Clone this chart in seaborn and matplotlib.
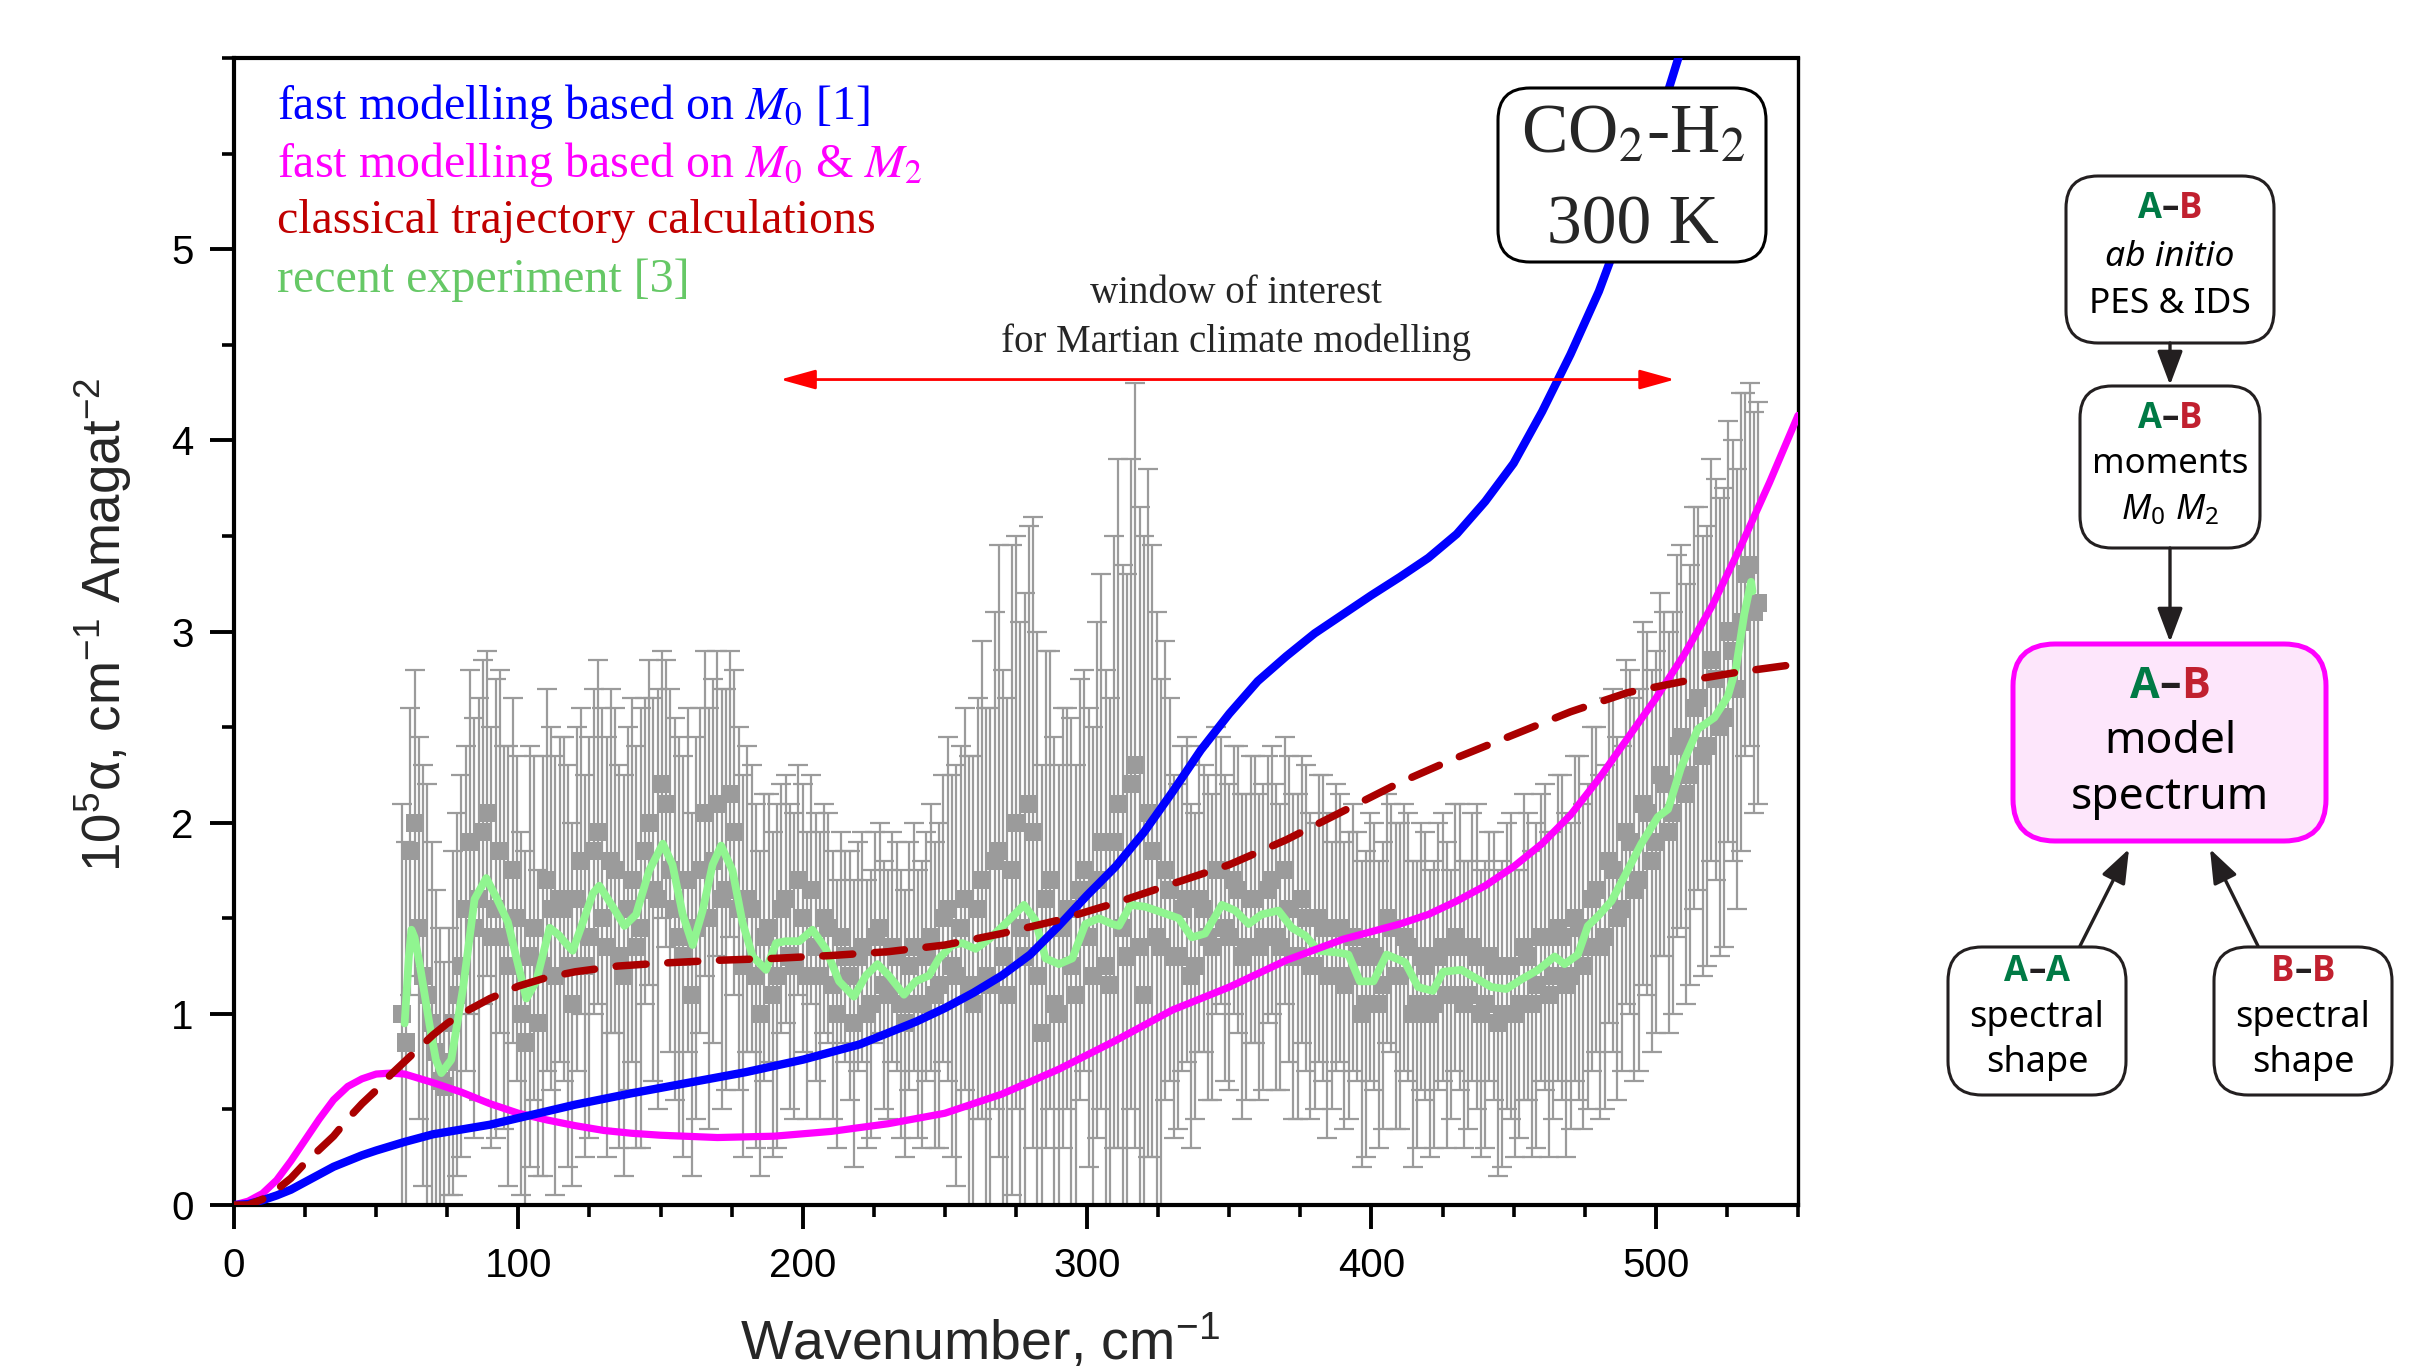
import os
import numpy as np
import matplotlib
matplotlib.use("Agg")
import matplotlib.pyplot as plt
import matplotlib.font_manager as fm
import seaborn as sns
from matplotlib.patches import FancyBboxPatch
from matplotlib.ticker import MultipleLocator

# ---------------- data ----------------
# fast modelling based on M0 [1]
m0_x = [0, 5, 10, 15, 20, 25, 30, 35, 40, 45, 50, 60, 70, 80, 90, 100, 110, 120, 140, 160,
        180, 200, 210, 220, 230, 240, 250, 260, 270, 280, 290, 300, 310, 320, 330, 340,
        350, 360, 370, 380, 390, 400, 410, 420, 430, 440, 450, 460, 470, 480, 490, 500,
        510]
m0_y = [0, 0.005, 0.025, 0.05, 0.08, 0.12, 0.16, 0.20, 0.23, 0.26, 0.285, 0.33, 0.37,
        0.395, 0.42, 0.455, 0.49, 0.525, 0.585, 0.64, 0.695, 0.76, 0.80, 0.84, 0.90, 0.96,
        1.03, 1.11, 1.20, 1.31, 1.46, 1.62, 1.77, 1.95, 2.16, 2.38, 2.57, 2.74, 2.87, 2.99,
        3.09, 3.19, 3.285, 3.385, 3.51, 3.68, 3.88, 4.15, 4.45, 4.78, 5.18, 5.62, 6.10]

# fast modelling based on M0 & M2
m02_x = [0, 5, 10, 15, 20, 25, 30, 35, 40, 45, 50, 55, 60, 70, 80, 90, 100, 110, 120, 130,
         140, 150, 170, 190, 210, 230, 250, 270, 290, 310, 330, 350, 370, 390, 410, 420,
         430, 440, 450, 460, 470, 480, 490, 500, 510, 520, 530, 540, 550]
m02_y = [0, 0.02, 0.06, 0.13, 0.23, 0.34, 0.45, 0.55, 0.62, 0.66, 0.685, 0.69, 0.685,
         0.64, 0.59, 0.53, 0.48, 0.445, 0.415, 0.39, 0.375, 0.365, 0.353, 0.36, 0.385,
         0.425, 0.48, 0.58, 0.71, 0.86, 1.02, 1.14, 1.28, 1.39, 1.47, 1.52, 1.59, 1.67,
         1.77, 1.89, 2.04, 2.23, 2.44, 2.65, 2.88, 3.14, 3.45, 3.78, 4.13]

# classical trajectory calculations
ctc_x = [0, 5, 10, 15, 20, 25, 30, 35, 40, 45, 50, 55, 60, 65, 70, 75, 80, 90, 100, 110,
         120, 135, 150, 170, 190, 210, 230, 250, 270, 290, 310, 330, 350, 370, 390, 410,
         430, 450, 470, 490, 510, 530, 550]
ctc_y = [0, 0.0, 0.03, 0.08, 0.14, 0.22, 0.29, 0.36, 0.45, 0.53, 0.60, 0.68, 0.75, 0.82,
         0.89, 0.95, 1.00, 1.08, 1.145, 1.19, 1.22, 1.25, 1.265, 1.28, 1.29, 1.305, 1.325,
         1.36, 1.42, 1.49, 1.58, 1.68, 1.78, 1.91, 2.06, 2.21, 2.34, 2.46, 2.58, 2.68,
         2.74, 2.79, 2.83]

# recent experiment [3], smoothed curve
smooth_x = [60.0, 61.5, 62.4, 63.5, 65.3, 68.8, 71.0, 72.9, 76.4, 80.5, 84.6, 88.7, 92.2,
            96.3, 99.2, 102.8, 106.3, 111.0, 114.4, 116.0, 119.1, 122.0, 126.2, 128.5,
            133.2, 137.3, 141.4, 146.0, 150.8, 154.2, 157.8, 161.3, 164.8, 168.3, 171.3,
            175.3, 178.8, 182.4, 187.1, 190.6, 194.0, 198.8, 203.4, 208.1, 212.8, 218.0,
            222.2, 226.3, 230.3, 235.6, 239.7, 244.4, 247.9, 252.6, 256.1, 260.8, 265.5,
            272.5, 277.8, 281.8, 285.4, 290.1, 294.8, 299.4, 304.1, 308.8, 311.2, 315.3,
            320.5, 326.4, 332.2, 336.8, 341.5, 347.4, 352.1, 356.8, 361.4, 367.3, 372.0,
            376.7, 381.4, 388.4, 391.9, 395.9, 400.7, 405.3, 411.8, 416.4, 421.6, 425.2,
            431.6, 437.5, 442.2, 447.4, 452.7, 458.6, 464.4, 467.9, 472.6, 476.1, 479.6,
            484.4, 489.0, 494.9, 500.7, 504.3, 508.9, 514.8, 520.6, 525.3, 528.2, 531.1,
            533.5, 534.0]
smooth_y = [0.95, 1.30, 1.44, 1.40, 1.26, 0.94, 0.76, 0.69, 0.76, 1.13, 1.60, 1.71, 1.61,
            1.48, 1.30, 1.08, 1.17, 1.45, 1.41, 1.38, 1.33, 1.45, 1.63, 1.67, 1.56, 1.46,
            1.52, 1.75, 1.89, 1.78, 1.52, 1.36, 1.54, 1.78, 1.88, 1.75, 1.48, 1.30, 1.23,
            1.37, 1.38, 1.38, 1.44, 1.34, 1.17, 1.09, 1.20, 1.26, 1.20, 1.10, 1.17, 1.20,
            1.29, 1.36, 1.37, 1.34, 1.39, 1.49, 1.57, 1.49, 1.29, 1.26, 1.29, 1.47, 1.50,
            1.47, 1.46, 1.57, 1.56, 1.53, 1.50, 1.40, 1.42, 1.57, 1.54, 1.47, 1.52, 1.54,
            1.45, 1.41, 1.33, 1.32, 1.31, 1.17, 1.17, 1.31, 1.27, 1.14, 1.12, 1.22, 1.23,
            1.18, 1.14, 1.13, 1.18, 1.23, 1.30, 1.26, 1.31, 1.46, 1.51, 1.59, 1.72, 1.89,
            2.03, 2.07, 2.29, 2.49, 2.55, 2.66, 2.81, 3.09, 3.26, 3.21]

# recent experiment [3], measured points with uncertainties (two interleaved scans)
exp_x = [59, 62, 65, 68, 71, 74, 77, 80, 83, 86,
         89, 92, 95, 98, 101, 104, 107, 110, 113, 116,
         119, 122, 125, 128, 131, 134, 137, 140, 143, 146,
         149, 152, 155, 158, 161, 164, 167, 170, 173, 176,
         179, 182, 185, 188, 191, 194, 197, 200, 203, 206,
         209, 212, 215, 218, 221, 224, 227, 230, 233, 236,
         239, 242, 245, 248, 251, 254, 257, 260, 263, 266,
         269, 272, 275, 278, 281, 284, 287, 290, 293, 296,
         299, 302, 305, 308, 311, 314, 317, 320, 323, 326,
         329, 332, 335, 338, 341, 344, 347, 350, 353, 356,
         359, 362, 365, 368, 371, 374, 377, 380, 383, 386,
         389, 392, 395, 398, 401, 404, 407, 410, 413, 416,
         419, 422, 425, 428, 431, 434, 437, 440, 443, 446,
         449, 452, 455, 458, 461, 464, 467, 470, 473, 476,
         479, 482, 485, 488, 491, 494, 497, 500, 503, 506,
         509, 512, 515, 518, 521, 524, 527, 530, 533, 536]
exp_y = [1.00, 1.85, 1.45, 1.10, 0.80, 0.62, 0.95, 1.25, 1.90, 1.60,
         2.05, 1.55, 1.40, 1.75, 1.00, 1.30, 0.95, 1.70, 1.20, 1.55,
         1.05, 1.80, 1.40, 1.95, 1.35, 1.75, 1.20, 1.70, 1.45, 2.00,
         1.60, 2.10, 1.55, 1.30, 1.10, 1.75, 1.50, 2.10, 1.65, 1.95,
         1.25, 1.55, 1.00, 1.45, 1.20, 1.60, 1.25, 1.50, 1.65, 1.20,
         1.45, 1.00, 1.30, 0.95, 1.35, 1.05, 1.45, 1.10, 1.30, 0.95,
         1.35, 1.05, 1.40, 1.15, 1.55, 1.20, 1.60, 1.05, 1.70, 1.15,
         1.85, 1.10, 2.00, 1.30, 1.95, 0.90, 1.70, 1.00, 1.55, 1.10,
         1.75, 1.20, 1.90, 1.15, 2.10, 1.30, 2.30, 1.10, 1.85, 1.35,
         1.65, 1.30, 1.60, 1.25, 1.55, 1.35, 1.75, 1.40, 1.65, 1.35,
         1.60, 1.40, 1.70, 1.35, 1.55, 1.30, 1.50, 1.25, 1.45, 1.20,
         1.45, 1.20, 1.30, 1.05, 1.30, 1.15, 1.45, 1.20, 1.35, 1.05,
         1.25, 1.05, 1.35, 1.10, 1.35, 1.10, 1.30, 1.05, 1.25, 1.00,
         1.25, 1.05, 1.30, 1.15, 1.40, 1.20, 1.40, 1.20, 1.45, 1.35,
         1.65, 1.40, 1.75, 1.55, 1.90, 1.70, 2.05, 1.90, 2.20, 2.05,
         2.45, 2.25, 2.65, 2.40, 2.75, 2.55, 2.90, 3.05, 3.35, 3.15]
exp_err = [1.10, 0.75, 1.00, 1.10, 0.85, 0.65, 0.90, 1.00, 0.90, 1.05,
           0.85, 1.20, 1.00, 0.90, 0.95, 1.10, 0.80, 1.00, 1.15, 0.90,
           0.95, 0.80, 1.05, 0.90, 1.10, 0.85, 1.05, 0.95, 1.15, 0.85,
           1.10, 0.75, 1.00, 1.05, 0.95, 0.85, 1.10, 0.80, 1.05, 0.85,
           1.00, 0.75, 0.85, 0.70, 0.90, 0.65, 0.80, 0.70, 0.60, 0.75,
           0.60, 0.70, 0.55, 0.75, 0.60, 0.70, 0.55, 0.65, 0.60, 0.70,
           0.65, 0.75, 0.70, 0.85, 0.90, 1.10, 1.00, 1.30, 1.25, 1.45,
           1.60, 1.55, 1.50, 1.90, 1.65, 1.40, 1.20, 1.30, 1.05, 1.20,
           1.05, 1.30, 1.40, 1.50, 1.80, 2.00, 2.00, 2.40, 1.60, 1.40,
           1.00, 0.90, 0.85, 0.80, 0.75, 0.80, 0.70, 0.80, 0.75, 0.80,
           0.75, 0.80, 0.70, 0.75, 0.80, 0.85, 0.80, 0.75, 0.80, 0.70,
           0.70, 0.75, 0.65, 0.80, 0.70, 0.75, 0.65, 0.80, 0.70, 0.75,
           0.70, 0.75, 0.70, 0.65, 0.75, 0.70, 0.80, 0.75, 0.70, 0.80,
           0.80, 0.70, 0.75, 0.85, 0.80, 0.75, 0.85, 0.80, 0.90, 0.85,
           0.85, 0.90, 0.95, 0.85, 0.90, 1.00, 0.95, 1.00, 0.90, 1.05,
           1.00, 1.10, 1.00, 1.15, 1.05, 1.20, 1.10, 1.20, 0.95, 1.05]

exp2_x = [60.5, 63.5, 66.5, 69.5, 72.5, 75.5, 78.5, 81.5, 84.5, 87.5,
          90.5, 93.5, 96.5, 99.5, 102.5, 105.5, 108.5, 111.5, 114.5, 117.5,
          120.5, 123.5, 126.5, 129.5, 132.5, 135.5, 138.5, 141.5, 144.5, 147.5,
          150.5, 153.5, 156.5, 159.5, 162.5, 165.5, 168.5, 171.5, 174.5, 177.5,
          180.5, 183.5, 186.5, 189.5, 192.5, 195.5, 198.5, 201.5, 204.5, 207.5,
          210.5, 213.5, 216.5, 219.5, 222.5, 225.5, 228.5, 231.5, 234.5, 237.5,
          240.5, 243.5, 246.5, 249.5, 252.5, 255.5, 258.5, 261.5, 264.5, 267.5,
          270.5, 273.5, 276.5, 279.5, 282.5, 285.5, 288.5, 291.5, 294.5, 297.5,
          300.5, 303.5, 306.5, 309.5, 312.5, 315.5, 318.5, 321.5, 324.5, 327.5,
          330.5, 333.5, 336.5, 339.5, 342.5, 345.5, 348.5, 351.5, 354.5, 357.5,
          360.5, 363.5, 366.5, 369.5, 372.5, 375.5, 378.5, 381.5, 384.5, 387.5,
          390.5, 393.5, 396.5, 399.5, 402.5, 405.5, 408.5, 411.5, 414.5, 417.5,
          420.5, 423.5, 426.5, 429.5, 432.5, 435.5, 438.5, 441.5, 444.5, 447.5,
          450.5, 453.5, 456.5, 459.5, 462.5, 465.5, 468.5, 471.5, 474.5, 477.5,
          480.5, 483.5, 486.5, 489.5, 492.5, 495.5, 498.5, 501.5, 504.5, 507.5,
          510.5, 513.5, 516.5, 519.5, 522.5, 525.5, 528.5, 531.5, 534.5]
exp2_y = [0.85, 2.00, 1.20, 0.95, 0.65, 0.75, 1.10, 1.55, 1.45, 1.95,
          1.40, 1.85, 1.25, 1.50, 0.85, 1.45, 1.25, 1.55, 1.60, 1.25,
          1.60, 1.25, 1.85, 1.50, 1.80, 1.30, 1.55, 1.35, 1.85, 1.65,
          2.20, 1.75, 1.40, 1.70, 1.45, 2.05, 1.80, 1.60, 2.15, 1.55,
          1.60, 1.20, 1.40, 1.10, 1.55, 1.30, 1.70, 1.20, 1.35, 1.50,
          1.15, 1.40, 1.20, 1.30, 1.00, 1.40, 1.15, 1.35, 1.05, 1.25,
          1.05, 1.30, 1.10, 1.50, 1.25, 1.45, 1.15, 1.55, 1.20, 1.80,
          1.30, 1.75, 1.45, 2.10, 1.20, 1.60, 1.05, 1.45, 1.25, 1.65,
          1.40, 1.70, 1.25, 1.90, 1.45, 2.20, 1.35, 2.05, 1.40, 1.75,
          1.30, 1.55, 1.20, 1.60, 1.40, 1.75, 1.45, 1.70, 1.30, 1.60,
          1.35, 1.65, 1.40, 1.75, 1.30, 1.60, 1.25, 1.50, 1.20, 1.45,
          1.15, 1.40, 1.00, 1.35, 1.05, 1.50, 1.20, 1.40, 1.00, 1.30,
          1.00, 1.30, 1.10, 1.40, 1.05, 1.35, 1.00, 1.30, 0.95, 1.25,
          1.00, 1.35, 1.05, 1.40, 1.10, 1.45, 1.15, 1.50, 1.25, 1.60,
          1.35, 1.80, 1.50, 1.95, 1.65, 2.10, 1.80, 2.25, 1.95, 2.40,
          2.15, 2.60, 2.35, 2.85, 2.50, 3.00, 2.70, 3.30, 3.10]
exp2_err = [1.05, 0.80, 1.10, 0.95, 0.80, 0.70, 0.95, 0.85, 1.10, 0.90,
            1.10, 0.95, 1.15, 0.85, 1.00, 0.90, 1.10, 0.95, 0.85, 1.05,
            0.90, 1.00, 0.85, 1.10, 0.90, 1.00, 0.95, 1.05, 0.80, 1.00,
            0.70, 0.95, 1.05, 0.90, 1.00, 0.85, 0.95, 1.10, 0.75, 0.95,
            0.80, 0.90, 0.75, 0.85, 0.65, 0.80, 0.60, 0.75, 0.70, 0.60,
            0.70, 0.55, 0.65, 0.60, 0.70, 0.55, 0.65, 0.60, 0.70, 0.65,
            0.70, 0.65, 0.80, 0.75, 1.00, 0.95, 1.20, 1.10, 1.40, 1.30,
            1.50, 1.70, 1.60, 1.45, 1.80, 1.30, 1.40, 1.15, 1.30, 1.10,
            1.20, 1.35, 1.55, 1.60, 1.90, 1.70, 2.30, 1.80, 1.70, 1.20,
            0.95, 0.85, 0.90, 0.80, 0.85, 0.75, 0.80, 0.70, 0.85, 0.75,
            0.80, 0.70, 0.80, 0.70, 0.85, 0.75, 0.80, 0.75, 0.85, 0.75,
            0.75, 0.70, 0.80, 0.70, 0.75, 0.65, 0.80, 0.70, 0.80, 0.70,
            0.75, 0.70, 0.80, 0.70, 0.75, 0.70, 0.75, 0.65, 0.80, 0.75,
            0.75, 0.80, 0.80, 0.75, 0.85, 0.80, 0.90, 0.85, 0.85, 0.90,
            0.90, 0.85, 0.95, 0.90, 1.00, 0.95, 1.00, 0.95, 1.05, 1.00,
            1.10, 1.05, 1.15, 1.05, 1.20, 1.10, 1.15, 0.95, 1.05]

x_major = [0, 100, 200, 300, 400, 500]
y_major = [0, 1, 2, 3, 4, 5]
legend_lines = ["fast modelling based on $M_0$ [1]",
                "fast modelling based on $M_0$ & $M_2$",
                "classical trajectory calculations",
                "recent experiment [3]"]
legend_colors = ["#0000ff", "#ff00ff", "#c00000", "#66c866"]
system_label = ["CO$_2$-H$_2$", "300 K"]
window_label = ["window of interest", "for Martian climate modelling"]
window_range = [192.1, 506.7]
window_level = 4.318

# ---------------- style ----------------
sns.set_theme(style="ticks")
names = {f.name for f in fm.fontManager.ttflist}
SANS = "Liberation Sans" if "Liberation Sans" in names else "DejaVu Sans"
SERIF = "Liberation Serif" if "Liberation Serif" in names else "DejaVu Serif"
FLOW = "Noto Sans" if "Noto Sans" in names else "DejaVu Sans"


def pick_bold(cands):
    for fam in cands:
        if fam not in names:
            continue
        try:
            p = fm.findfont(fm.FontProperties(family=fam, weight="bold"),
                            fallback_to_default=False)
        except Exception:
            continue
        if "bold" in os.path.basename(p).lower():
            return fam
    return "DejaVu Sans"


BOLD = pick_bold(["Noto Sans", "Open Sans", "Fira Sans", "Lato", "Roboto", "DejaVu Sans"])

plt.rcParams["font.family"] = [SANS, "DejaVu Sans"]
plt.rcParams["mathtext.fontset"] = "custom"
plt.rcParams["mathtext.rm"] = FLOW
plt.rcParams["mathtext.it"] = FLOW + ":italic"
plt.rcParams["mathtext.bf"] = FLOW + ":bold"
plt.rcParams["axes.edgecolor"] = "black"
plt.rcParams["xtick.color"] = "black"
plt.rcParams["ytick.color"] = "black"

W, H = 2414, 1368
fig = plt.figure(figsize=(W / 100, H / 100), dpi=100, facecolor="white")
ax = fig.add_axes([234 / W, 1 - 1205 / H, 1564 / W, 1147 / H])
ax.set_facecolor("white")

GREY = "#9b9b9b"
# experiment points with error bars
for xs, ys, es in [(exp_x, exp_y, exp_err), (exp2_x, exp2_y, exp2_err)]:
    ax.errorbar(xs, ys, yerr=es, fmt="none", ecolor=GREY, elinewidth=1.6, capsize=7,
                capthick=1.6, zorder=1)
    sns.scatterplot(x=xs, y=ys, ax=ax, marker="s", s=13 ** 2, color=GREY,
                    edgecolor="none", linewidth=0, zorder=2, legend=False)

sns.lineplot(x=smooth_x, y=smooth_y, ax=ax, color="#90f590", lw=5.6, sort=False,
             zorder=3)
sns.lineplot(x=m02_x, y=m02_y, ax=ax, color="#ff00ff", lw=5.2, sort=False, zorder=4)
sns.lineplot(x=m0_x, y=m0_y, ax=ax, color="#0000ff", lw=6.0, sort=False, zorder=5)
sns.lineplot(x=ctc_x, y=ctc_y, ax=ax, color="#aa0000", lw=5.4, sort=False, zorder=6)
dash = ax.lines[-1]
dash.set_dashes([4.0, 2.9])
dash.set_dash_capstyle("round")

ax.set_xlim(0, 550)
ax.set_ylim(0, 6)
ax.set_xticks(x_major)
ax.set_yticks(y_major)
ax.xaxis.set_minor_locator(MultipleLocator(25))
ax.yaxis.set_minor_locator(MultipleLocator(0.5))
ax.tick_params(which="major", direction="out", length=17, width=2.8, labelsize=29,
               top=False, right=False)
ax.tick_params(axis="x", which="major", pad=13)
ax.tick_params(axis="y", which="major", pad=12)
ax.tick_params(which="minor", direction="out", length=8.5, width=2.6, top=False,
               right=False)
for s in ax.spines.values():
    s.set_linewidth(3.0)
    s.set_color("black")
ax.spines["right"].set_linewidth(2.4)
ax.set_xlabel("")
ax.set_ylabel("")

# window of interest arrow
ax.annotate("", xy=(window_range[1], window_level), xytext=(window_range[0], window_level),
            arrowprops=dict(arrowstyle="<|-|>,head_length=0.9,head_width=0.25",
                            color="#ff0000", lw=2.0, mutation_scale=24,
                            shrinkA=0, shrinkB=0), zorder=7)

# axis labels
fig.text(980 / W, 1 - 1360 / H, r"Wavenumber, cm$^{\mathregular{-1}}$", fontsize=40,
         ha="center", va="baseline", family=SANS)
fig.text(103 / W, 1 - 625 / H,
         r"10$^{\mathregular{5}}$α, cm$^{\mathregular{-1}}$ Amagat$^{\mathregular{-2}}$",
         fontsize=38, rotation=90, ha="center", va="center", family=SANS)

# ---------------- overlay in pixel coordinates ----------------
ov = fig.add_axes([0, 0, 1, 1], zorder=10)
ov.set_xlim(0, W)
ov.set_ylim(H, 0)
ov.set_axis_off()
ov.patch.set_alpha(0)

# legend texts
for i, (t, c) in enumerate(zip(legend_lines, legend_colors)):
    ov.text(277, [119, 177, 233, 292][i], t, color=c, fontsize=34.5, family=SERIF,
            ha="left", va="baseline", math_fontfamily="stix")

# CO2-H2 box
ov.add_patch(FancyBboxPatch((1498, 88), 268, 174,
                            boxstyle="round,pad=0,rounding_size=32",
                            fc="white", ec="black", lw=2.2, zorder=2))
ov.text(1633, 153, system_label[0], fontsize=50, family=SERIF, ha="center",
        va="baseline", math_fontfamily="stix", zorder=3)
ov.text(1633, 243, system_label[1], fontsize=50, family=SERIF, ha="center",
        va="baseline", zorder=3)

# window text
ov.text(1236, 303, window_label[0], fontsize=28, family=SERIF, ha="center",
        va="baseline")
ov.text(1236, 352, window_label[1], fontsize=28, family=SERIF, ha="center",
        va="baseline")

# ---------------- flowchart ----------------
GREEN, RED, INK = "#007a45", "#c1202f", "#231f20"
renderer = fig.canvas.get_renderer()


def colored(cx, y, parts, size):
    ts = [ov.text(0, y, s, color=c, fontsize=size, fontweight="bold", family=BOLD,
                  ha="left", va="center") for s, c in parts]
    ws = [t.get_window_extent(renderer).width for t in ts]
    x = cx - sum(ws) / 2
    for t, w in zip(ts, ws):
        t.set_x(x)
        x += w


def box(x0, y0, x1, y1, r, ec=INK, lw=2.2, fc="white"):
    ov.add_patch(FancyBboxPatch((x0, y0), x1 - x0, y1 - y0,
                                boxstyle=f"round,pad=0,rounding_size={r}",
                                fc=fc, ec=ec, lw=lw))


def arrow(x0, y0, x1, y1):
    ov.annotate("", xy=(x1, y1), xytext=(x0, y0),
                arrowprops=dict(arrowstyle="-|>,head_length=0.8,head_width=0.3",
                                color=INK, lw=2.4, mutation_scale=26,
                                shrinkA=0, shrinkB=0))


box(2066, 176, 2274, 343, 32)
box(2080, 386, 2260, 548, 32)
box(2013, 644, 2326, 841, 42, ec="#ff00ff", lw=3.6, fc="#fde6fb")
box(1948, 947, 2126, 1095, 34)
box(2214, 947, 2392, 1095, 34)

arrow(2170, 343, 2170, 385)
arrow(2170, 548, 2170, 642)
arrow(2080, 946, 2129, 849)
arrow(2258, 946, 2210, 849)

colored(2170, 209, [("A", GREEN), ("–", INK), ("B", RED)], 25)
ov.text(2170, 257, "ab initio", fontsize=25.5, family=FLOW, style="italic",
        ha="center", va="center", color="black")
ov.text(2170, 304, "PES & IDS", fontsize=25.5, family=FLOW, ha="center", va="center",
        color="black")

colored(2170, 419, [("A", GREEN), ("–", INK), ("B", RED)], 25)
ov.text(2170, 464, "moments", fontsize=25, family=FLOW, ha="center", va="center",
        color="black")
ov.text(2170, 510, r"$M_0\ M_2$", fontsize=25, family=FLOW, ha="center",
        va="center", color="black", math_fontfamily="custom")

colored(2170, 686, [("A", GREEN), ("–", INK), ("B", RED)], 31)
ov.text(2170, 742, "model", fontsize=32, family=FLOW, ha="center", va="center",
        color="black")
ov.text(2170, 798, "spectrum", fontsize=32, family=FLOW, ha="center", va="center",
        color="black")

colored(2037, 972, [("A", GREEN), ("–", INK), ("A", GREEN)], 25)
ov.text(2037, 1018, "spectral", fontsize=26, family=FLOW, ha="center", va="center",
        color="black")
ov.text(2037, 1063, "shape", fontsize=26, family=FLOW, ha="center", va="center",
        color="black")

colored(2303, 972, [("B", RED), ("–", INK), ("B", RED)], 25)
ov.text(2303, 1018, "spectral", fontsize=26, family=FLOW, ha="center", va="center",
        color="black")
ov.text(2303, 1063, "shape", fontsize=26, family=FLOW, ha="center", va="center",
        color="black")

fig.savefig("out.png", dpi=100, facecolor="white")
